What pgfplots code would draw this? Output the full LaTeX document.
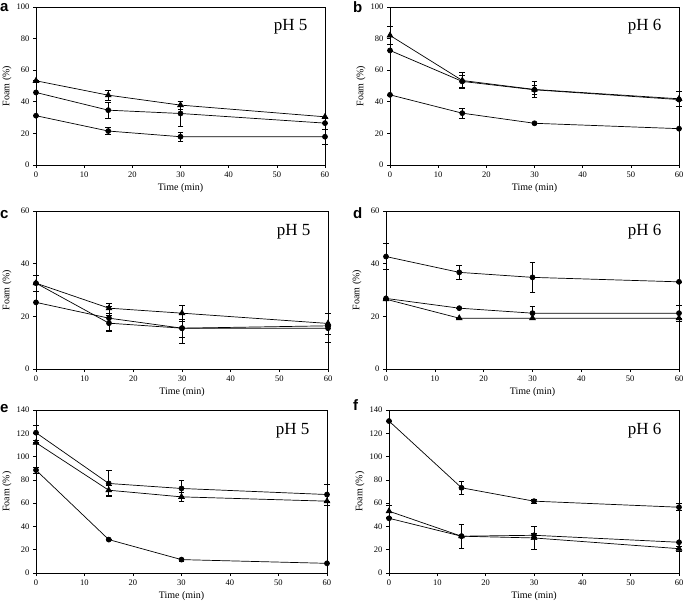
\documentclass[border=0pt]{standalone}
\usepackage{pgfplots}
\pgfplotsset{compat=1.18}
\usepackage{fontspec}
\setmainfont{Liberation Serif}
\newfontfamily\lettfont{Liberation Sans}

\pgfplotsset{
  panel/.style={
    scale only axis, width=290pt, height=158pt,
    xmin=0, xmax=60, xtick={0,10,...,60}, ymin=0,
    axis line style={line width=0.6pt},
    tick align=outside, major tick length=3pt, xtick pos=bottom, ytick pos=left,
    tick style={line width=0.6pt, black},
    tick label style={font=\fontsize{8.5}{10}\selectfont},
    /pgf/number format/assume math mode=true,
    xlabel={Time (min)}, ylabel={Foam (\%)},
    label style={font=\fontsize{10}{12}\selectfont},
    xlabel style={at={([yshift=-23pt]axis description cs:0.5,0)}, anchor=center},
    ylabel style={at={([xshift=-29pt]axis description cs:0,0.5)}, anchor=center},
    clip=false,
    cycle list={{black}},
    error bars/error bar style={line width=0.6pt, black},
    error bars/error mark options={rotate=90, mark size=2.8pt, line width=0.6pt, black},
  },
  circ/.style={black, solid, line width=0.7pt, mark=*, mark size=2.5pt, mark options={solid, fill=black},
    error bars/y dir=both, error bars/y explicit},
  tri/.style={black, solid, line width=0.7pt, mark=triangle*, mark size=3.3pt, mark options={solid, fill=black},
    error bars/y dir=both, error bars/y explicit},
}
\newcommand{\phlabel}[1]{\node[anchor=base east, font=\fontsize{17}{18}\selectfont] at ([xshift=-14pt,yshift=-24pt]rel axis cs:1,1) {#1};}

\begin{document}
\begin{tikzpicture}[x=1pt,y=1pt]
\useasboundingbox (0,0) rectangle (685,603);

% panel a
\begin{axis}[panel, at={(36pt,438pt)}, anchor=south west, width=289pt, ymax=100, ytick={0,20,...,100}]
\addplot[tri] table[x=x,y=y,y error=e]{
x y e
0 53.3 0
15 44.2 3
30 37.9 2.7
60 30.5 0
};
\addplot[circ] table[x=x,y=y,y error=e]{
x y e
0 45.9 0
15 34.7 5
30 32.6 8
60 26.5 0
};
\addplot[circ] table[x=x,y=y,y error=e]{
x y e
0 31.2 0
15 21.5 2.3
30 17.9 3
60 17.9 4.5
};
\phlabel{pH 5}
\end{axis}

% panel b
\begin{axis}[panel, at={(390pt,438pt)}, anchor=south west, width=289pt, ymax=100, ytick={0,20,...,100}]
\addplot[tri] table[x=x,y=y,y error=e]{
x y e
0 82 5.5
15 53.5 5
30 47.8 5
60 41.9 4.5
};
\addplot[circ] table[x=x,y=y,y error=e]{
x y e
0 72.5 0
15 52.9 4
30 47.6 3
60 41.4 0
};
\addplot[circ] table[x=x,y=y,y error=e]{
x y e
0 44.4 0
15 32.8 3
30 26.4 0
60 23 0
};
\phlabel{pH 6}
\end{axis}

% panel c
\begin{axis}[panel, at={(36pt,234pt)}, anchor=south west, width=292pt, ymax=60, ytick={0,20,...,60}]
\addplot[tri] table[x=x,y=y,y error=e]{
x y e
0 32.6 0
15 23.1 2
30 21.2 3
60 17.3 4
};
\addplot[circ] table[x=x,y=y,y error=e]{
x y e
0 32.6 3
15 17.4 3
30 15.5 5.8
60 15.5 5.5
};
\addplot[circ] table[x=x,y=y,y error=e]{
x y e
0 25.3 0
15 19.3 4.5
30 15.5 3.5
60 16.4 0
};
\phlabel{pH 5}
\end{axis}

% panel d
\begin{axis}[panel, at={(386pt,234pt)}, anchor=south west, width=293pt, ymax=60, ytick={0,20,...,60}]
\addplot[circ] table[x=x,y=y,y error=e]{
x y e
0 42.7 5
15 36.7 2.8
30 34.8 5.6
60 33.1 0
};
\addplot[circ] table[x=x,y=y,y error=e]{
x y e
0 26.8 0
15 23.1 0
30 21.2 2.5
60 21.2 3
};
\addplot[tri] table[x=x,y=y,y error=e]{
x y e
0 26.5 0
15 19.3 0
30 19.3 0
60 19.3 0
};
\phlabel{pH 6}
\end{axis}

% panel e
\begin{axis}[panel, at={(36pt,30pt)}, anchor=south west, width=291pt, height=163pt, ymax=140, ytick={0,20,...,140}]
\addplot[circ] table[x=x,y=y,y error=e]{
x y e
0 120.5 6.5
15 76.9 11
30 72.6 7
60 67.4 9
};
\addplot[tri] table[x=x,y=y,y error=e]{
x y e
0 111.9 0
15 71.1 4.5
30 65.4 3.5
60 61.7 0
};
\addplot[circ] table[x=x,y=y,y error=e]{
x y e
0 88.4 2.5
15 28.7 0
30 11.5 1.5
60 8.3 0
};
\phlabel{pH 5}
\end{axis}

% panel f
\begin{axis}[panel, at={(389pt,30pt)}, anchor=south west, width=290pt, height=163pt, ymax=140, ytick={0,20,...,140}]
\addplot[circ] table[x=x,y=y,y error=e]{
x y e
0 130.5 0
15 73.2 5.5
30 61.7 1.5
60 56.5 3
};
\addplot[tri] table[x=x,y=y,y error=e]{
x y e
0 53.1 5
15 31.6 10
30 30.1 10
60 20.9 2
};
\addplot[circ] table[x=x,y=y,y error=e]{
x y e
0 47 0
15 31.6 0
30 32.4 1.5
60 26.4 0
};
\phlabel{pH 6}
\end{axis}

\node[anchor=base west, font=\lettfont\bfseries\fontsize{15}{15}\selectfont, inner sep=0pt] at (0,591) {a};
\node[anchor=base west, font=\lettfont\bfseries\fontsize{15}{15}\selectfont, inner sep=0pt] at (353,590) {b};
\node[anchor=base west, font=\lettfont\bfseries\fontsize{15}{15}\selectfont, inner sep=0pt] at (0,384) {c};
\node[anchor=base west, font=\lettfont\bfseries\fontsize{15}{15}\selectfont, inner sep=0pt] at (353,384) {d};
\node[anchor=base west, font=\lettfont\bfseries\fontsize{15}{15}\selectfont, inner sep=0pt] at (0,191) {e};
\node[anchor=base west, font=\lettfont\bfseries\fontsize{15}{15}\selectfont, inner sep=0pt] at (353,193) {f};
\end{tikzpicture}
\end{document}
